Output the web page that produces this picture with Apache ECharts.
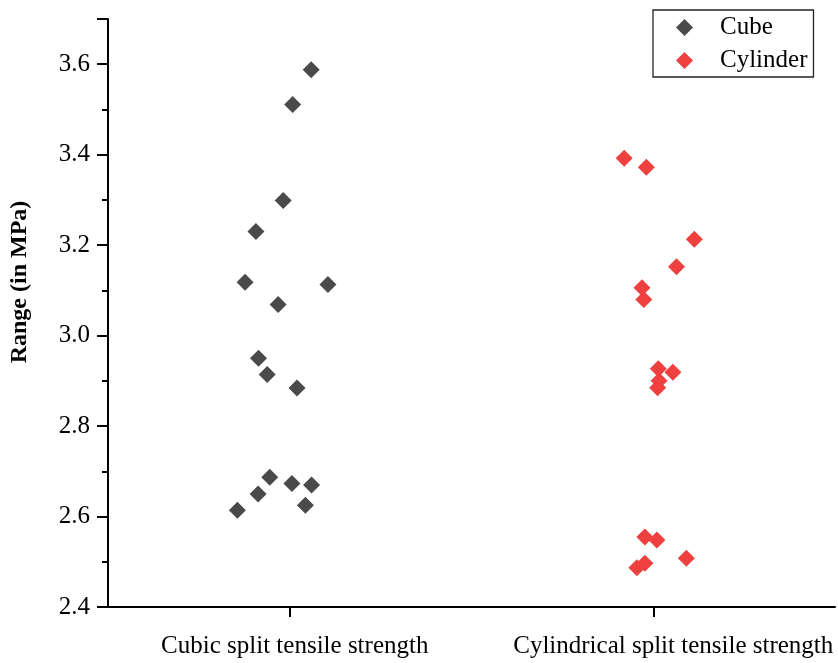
<!DOCTYPE html>
<html>
<head>
<meta charset="utf-8">
<script src="https://cdn.jsdelivr.net/npm/echarts@6/dist/echarts.min.js"></script>
<style>
html,body{margin:0;padding:0;background:#fff;}
#chart{width:838px;height:663px;}
</style>
</head>
<body>
<div id="chart"></div>
<script>
var categories = ['Cubic split tensile strength', 'Cylindrical split tensile strength'];
var seriesNames = ['Cube', 'Cylinder'];
var yTicks = [2.4, 2.6, 2.8, 3.0, 3.2, 3.4, 3.6];

// horizontal jitter positions (category 0 centred at 0.5, category 1 at 1.5)
var cubeX = [0.559, 0.508, 0.482, 0.407, 0.377, 0.605, 0.468, 0.414, 0.438, 0.520, 0.445, 0.413, 0.356, 0.506, 0.560, 0.543];
var cubeY = [3.588, 3.511, 3.299, 3.230, 3.118, 3.113, 3.069, 2.950, 2.914, 2.884, 2.687, 2.650, 2.614, 2.673, 2.670, 2.625];

var cylX = [1.420, 1.481, 1.613, 1.564, 1.469, 1.474, 1.514, 1.554, 1.516, 1.512, 1.477, 1.510, 1.591, 1.477, 1.455];
var cylY = [3.392, 3.372, 3.213, 3.152, 3.106, 3.080, 2.927, 2.919, 2.900, 2.885, 2.555, 2.548, 2.508, 2.497, 2.487];

function pairs(xs, ys) {
  return xs.map(function (x, i) { return [x, ys[i]]; });
}

var labelPads = [[0, 0, 0, 10], [0, 0, 0, 40]];
var serif = '"Times New Roman", "Liberation Serif", serif';
var chart = echarts.init(document.getElementById('chart'), null, {renderer: 'canvas'});
chart.setOption({
  backgroundColor: '#ffffff',
  animation: false,
  grid: {left: 104, right: 3, top: 19, bottom: 56, containLabel: false},
  legend: {
    orient: 'vertical',
    left: 653,
    top: 10,
    width: 158,
    padding: [5, 6, 4, 23],
    itemGap: 8,
    itemWidth: 17,
    itemHeight: 17,
    borderColor: '#222',
    borderWidth: 1.3,
    data: seriesNames,
    textStyle: {fontFamily: serif, fontSize: 25, color: '#000', padding: [0, 0, 0, 22]}
  },
  xAxis: [
    {
      type: 'category',
      data: categories.map(function (c, i) { return {value: c, textStyle: {padding: labelPads[i]}}; }),
      boundaryGap: true,
      axisLine: {show: true, lineStyle: {color: '#000', width: 2}},
      axisTick: {show: true, alignWithLabel: true, length: 10, lineStyle: {color: '#000', width: 2}},
      axisLabel: {fontFamily: serif, fontSize: 25, color: '#000', margin: 27, interval: 0, hideOverlap: false},
      splitLine: {show: false}
    },
    {
      type: 'value',
      min: 0,
      max: 2,
      show: false,
      splitLine: {show: false}
    }
  ],
  yAxis: {
    type: 'value',
    min: 2.4,
    max: 3.7,
    interval: 0.2,
    name: 'Range (in MPa)',
    nameLocation: 'middle',
    nameGap: 76,
    nameTextStyle: {fontFamily: serif, fontSize: 24, fontWeight: 'bold', color: '#000', padding: [0, 0, 0, 62]},
    axisLine: {show: true, lineStyle: {color: '#000', width: 2}},
    axisTick: {show: true, inside: false, length: 11, lineStyle: {color: '#000', width: 2}},
    minorTick: {show: true, splitNumber: 2, length: 6, lineStyle: {color: '#000', width: 2}},
    axisLabel: {
      fontFamily: serif, fontSize: 25, color: '#000', margin: 18,
      formatter: function (v) {
        var t = Math.round(v * 10) / 10;
        return yTicks.indexOf(t) >= 0 ? t.toFixed(1) : '';
      }
    },
    splitLine: {show: false}
  },
  series: [
    {
      name: seriesNames[0],
      type: 'scatter',
      xAxisIndex: 1,
      symbol: 'diamond',
      symbolSize: 17,
      itemStyle: {color: '#4a4a4a', opacity: 1},
      data: pairs(cubeX, cubeY)
    },
    {
      name: seriesNames[1],
      type: 'scatter',
      xAxisIndex: 1,
      symbol: 'diamond',
      symbolSize: 17,
      itemStyle: {color: '#ef4040', opacity: 1},
      data: pairs(cylX, cylY)
    }
  ]
});
</script>
</body>
</html>
